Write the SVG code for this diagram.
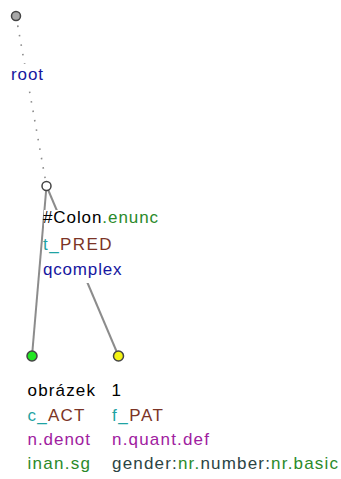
<svg xmlns="http://www.w3.org/2000/svg" width="341" height="479" viewBox="0 0 341 479">
<style>
text{font-family:"Liberation Sans",Arial,sans-serif;font-size:17px}
.edge{stroke:#8c8c8c;stroke-width:2;fill:none}
.dot{stroke:#8c8c8c;stroke-width:1.6;fill:none;stroke-dasharray:1.6 8}
.box{fill:#fff}
.node{stroke:#444;stroke-width:1.5}
.k{fill:#000}.g{fill:#2a8a2a}.t{fill:#1fa3a3}.br{fill:#7b3426}.b{fill:#1616a0}.p{fill:#a020a0}.s{fill:#2b4444}
</style>
<rect width="341" height="479" fill="#fff"/>
<g id="connectors">
<line class="dot" x1="16" y1="16" x2="46.5" y2="186"/>
<line class="edge" x1="46.5" y1="186" x2="32" y2="356"/>
<line class="edge" x1="46.5" y1="186" x2="118.5" y2="356"/>
</g>
<g id="root">
<circle class="node" cx="16" cy="16" r="4.5" fill="#a8a8a8"/>
<rect class="box" x="11" y="64" width="33" height="21"/>
<text x="11" y="80" class="b" textLength="32" lengthAdjust="spacing">root</text>
</g>
<g id="colon">
<circle class="node" cx="46.5" cy="186" r="4.5" fill="#fff" stroke="#222"/>
<rect class="box" x="44" y="210" width="116" height="73"/>
<text x="43" y="223" textLength="115" lengthAdjust="spacing"><tspan class="k">#Colon</tspan><tspan class="g">.enunc</tspan></text>
<text x="43" y="249.5" textLength="68.5" lengthAdjust="spacing"><tspan class="t">t_</tspan><tspan class="br">PRED</tspan></text>
<text x="43" y="274.5" class="b" textLength="78.5" lengthAdjust="spacing">qcomplex</text>
</g>
<g id="obrazek">
<circle class="node" cx="32" cy="356" r="5" fill="#22e622"/>
<text x="27.5" y="396" class="k" textLength="67.5" lengthAdjust="spacing">obrázek</text>
<text x="27.5" y="420.5" textLength="57" lengthAdjust="spacing"><tspan class="t">c_</tspan><tspan class="br">ACT</tspan></text>
<text x="27.5" y="444.5" class="p" textLength="62.5" lengthAdjust="spacing">n.denot</text>
<text x="27.5" y="468.5" class="g" textLength="62.5" lengthAdjust="spacing">inan.sg</text>
</g>
<g id="one">
<circle class="node" cx="118.5" cy="356" r="5" fill="#f4f414"/>
<text x="111.5" y="396" class="k">1</text>
<text x="112" y="420.5" textLength="51" lengthAdjust="spacing"><tspan class="t">f_</tspan><tspan class="br">PAT</tspan></text>
<text x="112" y="444.5" class="p" textLength="97" lengthAdjust="spacing">n.quant.def</text>
<text x="112" y="468.5" textLength="226" lengthAdjust="spacing"><tspan class="s">gender:</tspan><tspan class="g">nr.</tspan><tspan class="s">number:</tspan><tspan class="g">nr.basic</tspan></text>
</g>
</svg>
